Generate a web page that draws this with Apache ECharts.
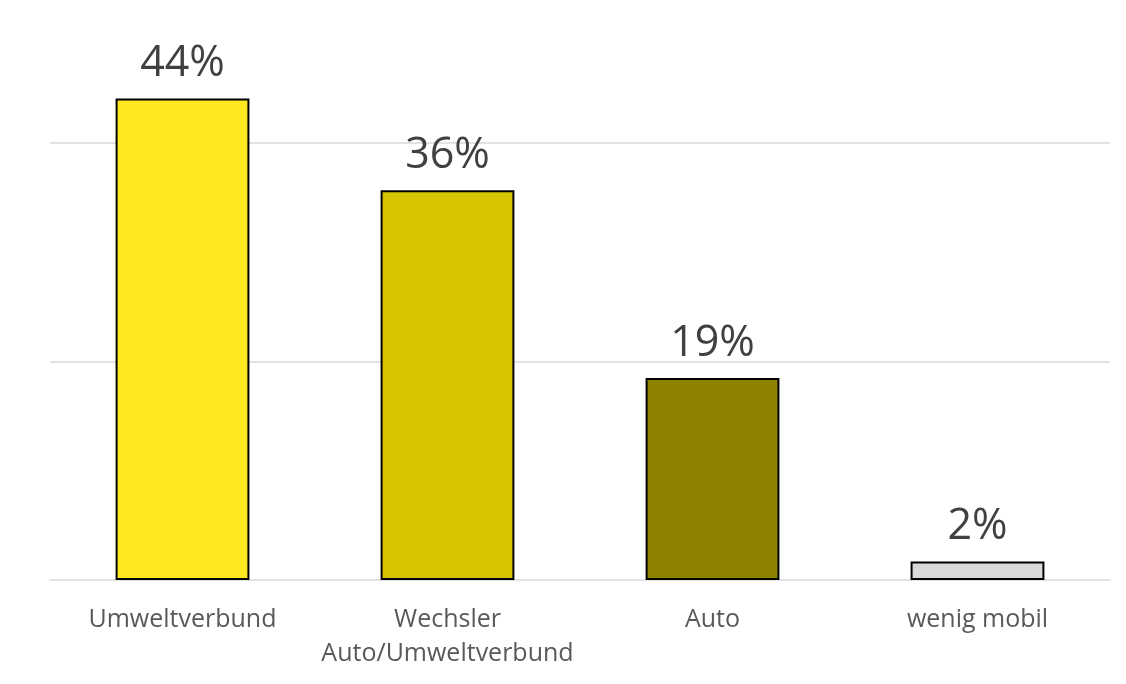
<!DOCTYPE html>
<html>
<head>
<meta charset="utf-8">
<script src="https://cdn.jsdelivr.net/npm/echarts@6/dist/echarts.min.js"></script>
<style>html,body{margin:0;padding:0;background:#fff;}#chart{width:1126px;height:684px;}</style>
</head>
<body>
<div id="chart"></div>
<script>
var categories = ['Umweltverbund', 'Wechsler\nAuto/Umweltverbund', 'Auto', 'wenig mobil'];
var values = [44.1, 35.7, 18.5, 1.7];
var barColors = ['#FFE81F', '#D6C400', '#8F8200', '#D9D9D9'];

var chart = echarts.init(document.getElementById('chart'));
chart.setOption({
  animation: false,
  grid: { left: 50, right: 16, top: 34, bottom: 104, containLabel: false },
  xAxis: {
    type: 'category',
    data: categories,
    axisLine: { show: true, lineStyle: { color: '#D9D9D9', width: 1.5 } },
    axisTick: { show: false },
    axisLabel: {
      color: '#595959', fontSize: 25, fontFamily: 'Open Sans', lineHeight: 34, margin: 23, interval: 0
    }
  },
  yAxis: {
    type: 'value', min: 0, max: 50, interval: 20,
    axisLabel: { show: false }, axisLine: { show: false }, axisTick: { show: false },
    splitLine: { show: true, showMinLine: false, showMaxLine: false, lineStyle: { color: '#D9D9D9', width: 1.5 } }
  },
  series: [{
    type: 'bar',
    data: values.map(function (v, i) { return { value: v, itemStyle: { color: barColors[i] } }; }),
    barWidth: '50.5%',
    itemStyle: { borderColor: '#000', borderWidth: 2 },
    label: {
      show: true, position: 'top', distance: 13,
      color: '#404040', fontSize: 43, fontFamily: 'Open Sans',
      formatter: function (p) { return Math.round(p.value) + '%'; }
    }
  }]
});
</script>
</body>
</html>
